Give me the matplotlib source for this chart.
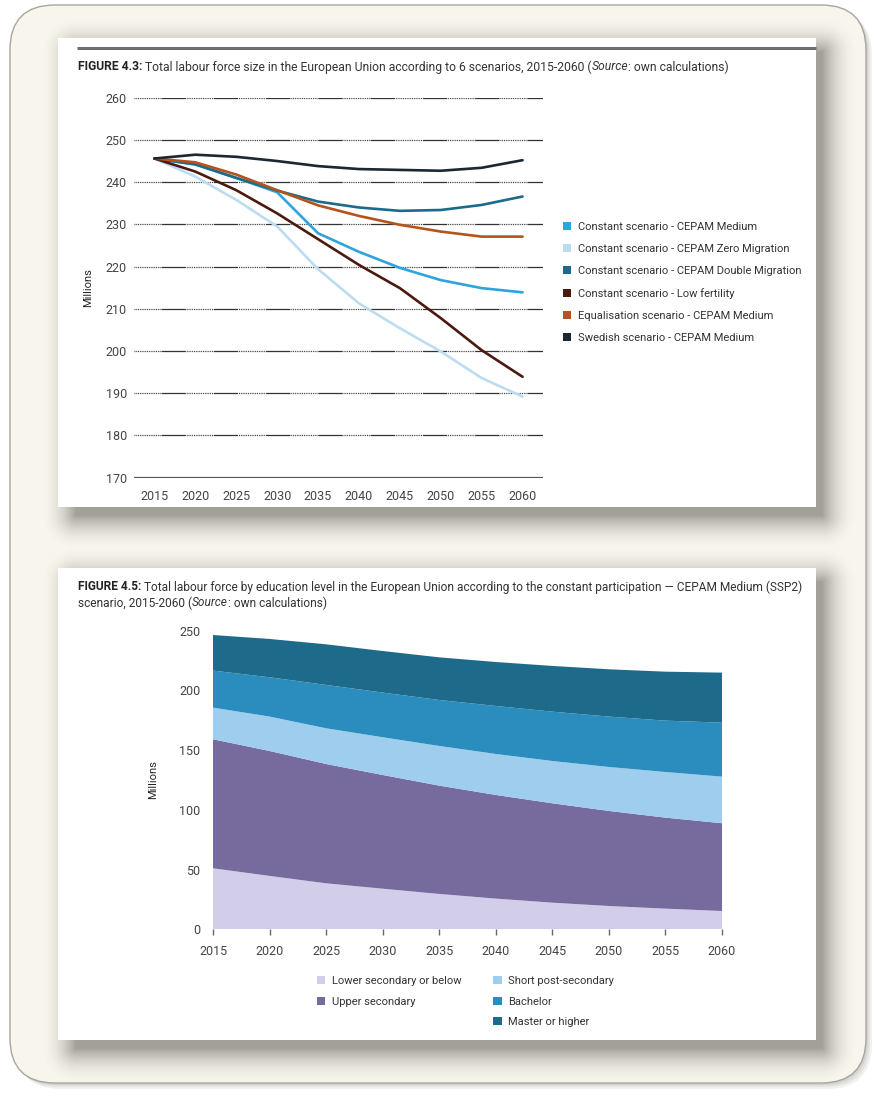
import numpy as np
import matplotlib
matplotlib.use("Agg")
import matplotlib.pyplot as plt
from matplotlib.patches import FancyBboxPatch, Rectangle, Patch

plt.rcParams['font.family'] = ['Roboto', 'DejaVu Sans']

W, H = 882, 1106

# ---- data: figure 4.3 (millions) ----
years = [2015, 2020, 2025, 2030, 2035, 2040, 2045, 2050, 2055, 2060]
const_medium = [245.6, 244.2, 241.0, 237.6, 227.9, 223.5, 219.7, 216.8, 214.9, 213.9]
const_zero_mig = [245.6, 241.3, 235.8, 229.5, 219.4, 211.3, 205.4, 199.9, 193.6, 189.2]
const_double_mig = [245.6, 244.2, 241.0, 238.0, 235.4, 234.0, 233.2, 233.4, 234.6, 236.6]
const_low_fert = [245.6, 242.5, 238.1, 232.6, 226.5, 220.4, 214.9, 207.8, 200.2, 193.9]
equalisation = [245.6, 244.7, 241.8, 238.1, 234.5, 232.0, 229.9, 228.3, 227.1, 227.1]
swedish = [245.6, 246.5, 246.0, 245.0, 243.8, 243.1, 242.9, 242.7, 243.4, 245.2]

scenario_labels = ["Constant scenario - CEPAM Medium",
                   "Constant scenario - CEPAM Zero Migration",
                   "Constant scenario - CEPAM Double Migration",
                   "Constant scenario - Low fertility",
                   "Equalisation scenario - CEPAM Medium",
                   "Swedish scenario - CEPAM Medium"]
scenario_colors = ["#2ea3dd", "#bcdcf2", "#1d6a8a", "#4a1a0e", "#b4531c", "#1b2731"]
y_ticks_top = [170, 180, 190, 200, 210, 220, 230, 240, 250, 260]

# ---- data: figure 4.5 (millions) ----
lower_sec = [51.1, 44.7, 38.5, 34.0, 29.6, 25.7, 22.3, 19.5, 17.3, 15.3]
upper_sec = [108.0, 104.6, 99.9, 95.2, 90.7, 86.8, 83.2, 79.6, 76.2, 73.5]
short_post = [26.5, 28.8, 29.9, 31.6, 33.2, 34.3, 35.4, 36.8, 38.2, 39.0]
bachelor = [31.0, 32.9, 36.3, 37.4, 38.5, 40.2, 41.3, 42.2, 43.0, 45.2]
master = [29.8, 32.1, 34.0, 34.8, 35.7, 36.8, 38.3, 39.6, 41.0, 41.9]
edu_labels = ["Lower secondary or below", "Upper secondary", "Short post-secondary",
              "Bachelor", "Master or higher"]
edu_colors = ["#d2cde8", "#766b9c", "#9ecded", "#2a8dbd", "#1e6a8b"]

fig = plt.figure(figsize=(W / 100, H / 100), dpi=100, facecolor="white")

# background layer in pixel coordinates
bg = fig.add_axes([0, 0, 1, 1], zorder=-10)
bg.set_xlim(0, W)
bg.set_ylim(H, 0)
bg.axis("off")

# outer frame with soft shadow
for off, a in [(6, 0.10), (4, 0.12), (2, 0.15)]:
    bg.add_patch(FancyBboxPatch((10 + off, 5 + off), 856, 1078,
                                boxstyle="round,pad=0,rounding_size=45",
                                facecolor="#7d7b75", edgecolor="none", alpha=a))
bg.add_patch(FancyBboxPatch((10, 5), 856, 1078, boxstyle="round,pad=0,rounding_size=45",
                            facecolor="#f7f5ec", edgecolor="#a8a69f", lw=1.0))

# drop shadows under the two white panels
panels = [(58, 816, 38, 507), (58, 816, 568, 1040)]
gx, gy = np.meshgrid(np.arange(W) + 0.5, np.arange(H) + 0.5)
alpha = np.zeros((H, W))
for x0, x1, y0, y1 in panels:
    sx0, sx1, sy0, sy1 = x0 + 18, x1 + 6, y0 + 14, y1 + 8
    dx = np.maximum(0, np.maximum(sx0 - gx, gx - sx1))
    dy = np.maximum(0, np.maximum(sy0 - gy, gy - sy1))
    d = np.hypot(dx, dy)
    alpha = np.maximum(alpha, 0.62 * np.clip(1 - d / 36, 0, 1) ** 2)
shadow = np.zeros((H, W, 4))
shadow[..., :3] = np.array([0x6e, 0x6c, 0x64]) / 255
shadow[..., 3] = alpha
bg.imshow(shadow, extent=(0, W, H, 0), zorder=2, interpolation="bilinear")
for x0, x1, y0, y1 in panels:
    bg.add_patch(Rectangle((x0, y0), x1 - x0, y1 - y0, facecolor="white",
                           edgecolor="none", zorder=3))
bg.plot([77, 816], [48, 48], color="#6e6e6e", lw=2.2, zorder=4, solid_capstyle="butt")
bg.set_aspect("auto")


def rich_text(x, y, parts, size=8.75):
    renderer = fig.canvas.get_renderer()
    for s, weight, style in parts:
        t = bg.text(x, y, s, fontsize=size, fontweight=weight, fontstyle=style,
                    color="#222222" if weight == "bold" else "#333333",
                    ha="left", va="center", zorder=5)
        x += t.get_window_extent(renderer).width


rich_text(78, 67, [("FIGURE 4.3:", "bold", "normal"),
                   (" Total labour force size in the European Union according to 6 scenarios, 2015-2060 (", "normal", "normal"),
                   ("Source", "normal", "italic"),
                   (": own calculations)", "normal", "normal")])
rich_text(78, 587, [("FIGURE 4.5:", "bold", "normal"),
                    (" Total labour force by education level in the European Union according to the constant participation \u2014 CEPAM Medium (SSP2)", "normal", "normal")],
          size=8.6)
rich_text(78, 603, [("scenario, 2015-2060 (", "normal", "normal"),
                    ("Source", "normal", "italic"),
                    (": own calculations)", "normal", "normal")], size=8.6)

# ---- top chart: lines ----
ax1 = fig.add_axes([134 / W, 1 - 477.7 / H, 409 / W, 380 / H])
ax1.set_xlim(-0.5, 9.5)
ax1.set_ylim(170, 260)
dots = [0.72, 0.72] * 15
grid_style = (0, dots + [19.5, 0.72])
for yv in y_ticks_top[1:]:
    ax1.axhline(yv, color="#333333", lw=0.9, linestyle=grid_style, zorder=1)
ax1.axhline(170, color="#555555", lw=1.6, zorder=1)
xs = np.arange(len(years))
series = [const_medium, const_zero_mig, const_double_mig, const_low_fert, equalisation, swedish]
for vals, col in zip(series, scenario_colors):
    ax1.plot(xs, vals, color=col, lw=1.9, zorder=3, solid_joinstyle="round", solid_capstyle="round")
ax1.set_xticks(xs)
ax1.set_xticklabels([str(y) for y in years])
ax1.set_yticks(y_ticks_top)
ax1.tick_params(axis="both", length=0, labelsize=9, labelcolor="#444444")
ax1.tick_params(axis="x", pad=9)
ax1.tick_params(axis="y", pad=5)
for sp in ax1.spines.values():
    sp.set_visible(False)
ax1.set_ylabel("Millions", fontsize=8, color="#222222")
ax1.yaxis.set_label_coords(-0.1, 0.5)
ax1.patch.set_visible(False)

handles1 = [Patch(facecolor=c, edgecolor="none") for c in scenario_colors]
ax1.legend(handles1, scenario_labels, loc="upper left", frameon=False,
           bbox_to_anchor=(563 / W, 1 - 222 / H), bbox_transform=fig.transFigure,
           fontsize=8, labelcolor="#333333", handlelength=0.75, handleheight=0.75,
           handletextpad=0.6, labelspacing=1.08, borderpad=0, borderaxespad=0)

# ---- bottom chart: stacked areas ----
ax2 = fig.add_axes([213 / W, 1 - 929.3 / H, 509 / W, 298.6 / H])
ax2.stackplot(years, lower_sec, upper_sec, short_post, bachelor, master,
              colors=edu_colors, lw=0, labels=edu_labels)
ax2.set_xlim(2015, 2060)
ax2.set_ylim(0, 250)
ax2.set_xticks(years)
ax2.set_yticks([0, 50, 100, 150, 200, 250])
ax2.tick_params(axis="y", length=0, pad=9, labelsize=9, labelcolor="#444444")
ax2.tick_params(axis="x", length=4, width=1, color="#666666", pad=7, labelsize=9,
                labelcolor="#444444")
for sp in ax2.spines.values():
    sp.set_visible(False)
ax2.set_ylabel("Millions", fontsize=8, color="#222222")
ax2.yaxis.set_label_coords(-0.108, 0.5)
ax2.patch.set_visible(False)

h = [Patch(facecolor=c, edgecolor="none") for c in edu_colors]
blank = Patch(facecolor="none", edgecolor="none")
ax2.legend([h[0], h[1], blank, h[2], h[3], h[4]],
           [edu_labels[0], edu_labels[1], "", edu_labels[2], edu_labels[3], edu_labels[4]],
           ncol=2, loc="upper left", frameon=False,
           bbox_to_anchor=(317 / W, 1 - 976 / H), bbox_transform=fig.transFigure,
           fontsize=8, labelcolor="#333333", handlelength=0.75, handleheight=0.75,
           handletextpad=0.6, labelspacing=0.95, columnspacing=2.85, borderpad=0,
           borderaxespad=0)

fig.savefig("out.png", dpi=100, facecolor="white")
